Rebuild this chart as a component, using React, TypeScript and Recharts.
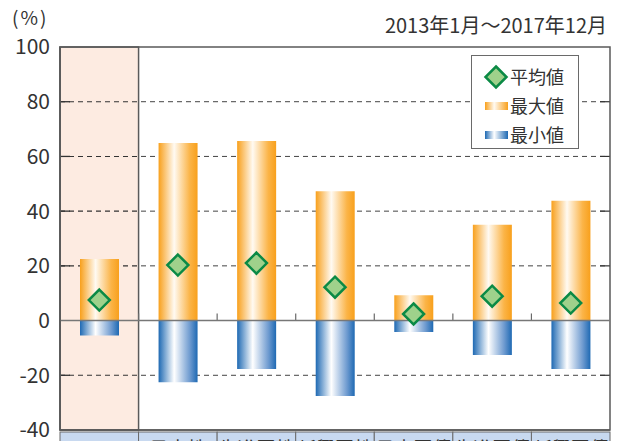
import React from "react";
import {
  ComposedChart,
  Bar,
  Scatter,
  XAxis,
  YAxis,
  ReferenceLine,
  ReferenceArea,
} from "recharts";

const categories = ["ファンド", "日本株", "先進国株", "新興国株", "日本国債", "先進国債", "新興国債"];
const maxValues = [22.5, 64.9, 65.6, 47.3, 9.3, 35.0, 43.8];
const minValues = [-5.5, -22.5, -17.7, -27.6, -4.2, -12.6, -17.7];
const avgValues = [7.5, 20.3, 21.0, 12.2, 2.4, 8.9, 6.4];
const yTicks = [-40, -20, 0, 20, 40, 60, 80, 100];
const gridTicks = [-20, 20, 40, 60, 80];
const Y_MIN = -40;
const Y_MAX = 100;

const data = categories.map((name, i) => ({
  name,
  max: maxValues[i],
  min: minValues[i],
  avg: avgValues[i],
}));

const FONT = '"Noto Sans CJK JP", "Noto Sans", sans-serif';
const TEXT = "#333333";
const FRAME = "#5a5a5a";
const HALF_BAND = 39.3;

const Diamond = (props: any) => {
  const { cx, cy } = props;
  if (cx == null || cy == null) return null;
  const r = 10.5;
  return (
    <polygon
      points={`${cx},${cy - r} ${cx + r},${cy} ${cx},${cy + r} ${cx - r},${cy}`}
      fill="#9fd18b"
      stroke="#0b8a45"
      strokeWidth={2.5}
    />
  );
};

const CategoryTick = (props: any) => {
  const { x, y, payload } = props;
  return (
    <g>
      <rect x={x - HALF_BAND} y={y} width={HALF_BAND * 2} height={30} fill="#c8d9f0" stroke="#6a6a6a" />
      <text x={x} y={y + 24} textAnchor="middle" fontSize={19} fill={TEXT} fontFamily={FONT}>
        {payload.value}
      </text>
    </g>
  );
};

const EdgeTick = (props: any) => {
  const { x, y, height } = props;
  return <line x1={x} y1={y} x2={x} y2={y + height} stroke="#6a6a6a" strokeWidth={1.2} />;
};

// highlighted first column, with its own share of the dashed grid
const HighlightColumn = (props: any) => {
  const { x, y, width, height } = props;
  const px = Number(x);
  const py = Number(y);
  const w = Number(width);
  const h = Number(height);
  return (
    <g>
      <rect x={px} y={py} width={w} height={h} fill="#fdebe1" stroke={FRAME} strokeWidth={1.5} />
      {gridTicks.map((t) => {
        const yy = py + (h * (Y_MAX - t)) / (Y_MAX - Y_MIN);
        return (
          <g key={t}>
            <path d={`M${px},${yy}H${px + w}`} stroke="#333" strokeWidth={1.1} strokeDasharray="5 4" fill="none" />
            <path d={`M${px},${yy}H${px + 10}`} stroke="#333" strokeWidth={1.3} fill="none" />
          </g>
        );
      })}
    </g>
  );
};

const GridLine = (props: any) => {
  const { x, y, width, height } = props;
  const yy = y + height;
  return (
    <g>
      <line x1={x} y1={yy} x2={x + width} y2={yy} stroke="#444" strokeDasharray="5 4" />
      <line x1={x + width - 10} y1={yy} x2={x + width} y2={yy} stroke="#333" strokeWidth={1.2} />
    </g>
  );
};

const LegendBox = () => (
  <div
    style={{
      position: "absolute",
      left: 471,
      top: 55,
      width: 108,
      height: 94,
      border: "1px solid #6a6a6a",
      background: "#fff",
      fontFamily: FONT,
      fontSize: 18,
      color: TEXT,
      boxSizing: "border-box",
      padding: "6px 0 0 11px",
      lineHeight: "29px",
    }}
  >
    <div style={{ display: "flex", alignItems: "center" }}>
      <svg width={26} height={26}>
        <Diamond cx={13} cy={13} />
      </svg>
      <span style={{ marginLeft: 1 }}>平均値</span>
    </div>
    <div style={{ display: "flex", alignItems: "center" }}>
      <span style={{ width: 23, height: 8, marginLeft: 2, background: "linear-gradient(90deg,#f8a01c,#fffaf2 40%,#f8a01c)" }} />
      <span style={{ marginLeft: 2 }}>最大値</span>
    </div>
    <div style={{ display: "flex", alignItems: "center" }}>
      <span style={{ width: 23, height: 8, marginLeft: 2, background: "linear-gradient(90deg,#1e69b3,#ffffff 40%,#1e69b3)" }} />
      <span style={{ marginLeft: 2 }}>最小値</span>
    </div>
  </div>
);

export default function App() {
  return (
    <div style={{ position: "fixed", left: 0, top: 0, width: 623, height: 441, background: "#fff", fontFamily: FONT, overflow: "hidden" }}>
      <ComposedChart
        width={623}
        height={441}
        data={data}
        stackOffset="sign"
        margin={{ top: 47, right: 13, bottom: 0, left: 0 }}
        style={{ position: "absolute", left: 0, top: 0 }}
      >
        <defs>
          <linearGradient id="gradMax" x1="0" y1="0" x2="1" y2="0">
            <stop offset="0%" stopColor="#f8a01c" />
            <stop offset="40%" stopColor="#fffaf2" />
            <stop offset="80%" stopColor="#fbb447" />
            <stop offset="100%" stopColor="#f8a01c" />
          </linearGradient>
          <linearGradient id="gradMin" x1="0" y1="0" x2="1" y2="0">
            <stop offset="0%" stopColor="#1e69b3" />
            <stop offset="40%" stopColor="#ffffff" />
            <stop offset="80%" stopColor="#6f9bd0" />
            <stop offset="100%" stopColor="#1e69b3" />
          </linearGradient>
        </defs>
        {gridTicks.map((t) => (
          <ReferenceArea key={t} y1={t} y2={t + 0.01} shape={<GridLine />} />
        ))}
        <ReferenceArea x1={categories[0]} x2={categories[0]} y1={Y_MIN} y2={Y_MAX} shape={<HighlightColumn />} />
        <XAxis
          dataKey="name"
          height={11}
          tickSize={0}
          tickLine={false}
          interval={0}
          axisLine={{ stroke: FRAME, strokeWidth: 1.5 }}
          tick={<CategoryTick />}
        />
        <YAxis
          width={60}
          domain={[Y_MIN, Y_MAX]}
          ticks={yTicks}
          interval={0}
          tickLine={false}
          axisLine={{ stroke: FRAME, strokeWidth: 1.5 }}
          tickMargin={4}
          tick={{ fontSize: 21, fill: TEXT, fontFamily: FONT }}
        />
        <ReferenceArea y1={Y_MIN} y2={Y_MAX} fill="none" stroke={FRAME} strokeWidth={1.5} />
        <Bar dataKey="max" stackId="a" barSize={39} fill="url(#gradMax)" isAnimationActive={false} />
        <Bar dataKey="min" stackId="a" barSize={39} fill="url(#gradMin)" isAnimationActive={false} />
        <ReferenceLine y={0} stroke="#777" strokeWidth={1.5} />
        {categories.slice(1).map((c) => (
          <ReferenceArea key={c} x1={c} x2={c} y1={0} y2={2.6} shape={<EdgeTick />} />
        ))}
        <Scatter dataKey="avg" shape={<Diamond />} isAnimationActive={false} />
      </ComposedChart>
      <div style={{ position: "absolute", left: 12, top: 3, fontSize: 19, color: TEXT, letterSpacing: 2 }}>(%)</div>
      <div style={{ position: "absolute", right: 16, top: 10, fontSize: 20, color: TEXT }}>2013年1月～2017年12月</div>
      <LegendBox />
    </div>
  );
}
